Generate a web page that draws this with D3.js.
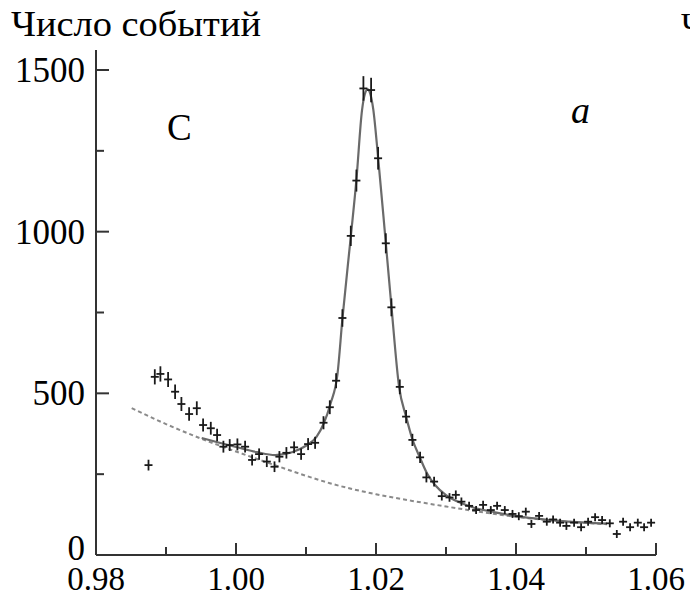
<!DOCTYPE html>
<html>
<head>
<meta charset="utf-8">
<script src="https://cdn.jsdelivr.net/npm/d3@7"></script>
<style>
  body { margin: 0; background: #fff; }
  svg { display: block; }
  .serif { font-family: "Liberation Serif", "Tinos", "Times New Roman", "Nimbus Roman", "Noto Serif", "DejaVu Serif", "FreeSerif", serif; }
</style>
</head>
<body>
<svg id="plot" width="690" height="596"></svg>
<script>
// measured points (mass GeV, events)
const masses = [
  0.9875, 0.9884, 0.9892, 0.9903, 0.9913, 0.9922, 0.9933, 0.9944, 0.9953, 0.9964,
  0.9973, 0.9982, 0.9991, 1.0002, 1.0013, 1.0023, 1.0033, 1.0044, 1.0055, 1.0062,
  1.0072, 1.0083, 1.0093, 1.0103, 1.0113, 1.0125, 1.0134, 1.0143, 1.0152, 1.0164,
  1.0172, 1.0182, 1.0193, 1.0203, 1.0214, 1.0222, 1.0234, 1.0243, 1.0252, 1.0263,
  1.0272, 1.0283, 1.0294, 1.0305, 1.0314, 1.0322, 1.0333, 1.0343, 1.0353, 1.0364,
  1.0373, 1.0384, 1.0395, 1.0404, 1.0414, 1.0422, 1.0433, 1.0444, 1.0453, 1.0463,
  1.0472, 1.0483, 1.0493, 1.0503, 1.0513, 1.0523, 1.0534, 1.0544, 1.0553, 1.0563,
  1.0574, 1.0583, 1.0593
]
const counts = [
  278, 551, 560, 543, 505, 467, 436, 454, 402, 392,
  371, 335, 340, 342, 335, 294, 312, 289, 273, 304,
  316, 333, 312, 343, 347, 409, 457, 539, 733, 987,
  1158, 1443, 1438, 1227, 964, 766, 520, 428, 356, 302,
  240, 227, 182, 178, 186, 165, 152, 139, 155, 139,
  152, 139, 127, 120, 134, 96, 121, 103, 110, 100,
  90, 100, 86, 103, 117, 108, 98, 65, 103, 86,
  100, 86, 100
]

// fit curve
const fitMass = [
  0.9951, 0.9975, 1.0000, 1.0030, 1.0056, 1.0080, 1.0100, 1.0115, 1.0125, 1.0135,
  1.0145, 1.0152, 1.0164, 1.0172, 1.0180, 1.0184, 1.0188, 1.0192, 1.0196, 1.0203,
  1.0214, 1.0222, 1.0233, 1.0243, 1.0252, 1.0263, 1.0273, 1.0285, 1.0300, 1.0320,
  1.0340, 1.0370, 1.0400, 1.0450, 1.0500, 1.0530
]
const fitCounts = [
  362, 348, 334, 318, 309, 318, 338, 365, 405, 468,
  560, 730, 985, 1160, 1375, 1425, 1440, 1425, 1380, 1230,
  965, 770, 520, 428, 358, 300, 252, 215, 185, 162,
  146, 132, 120, 108, 100, 97
]

// background (dashed)
const bgMass = [0.9851, 0.9900, 0.9950, 1.0000, 1.0050, 1.0100, 1.0134, 1.0200, 1.0250, 1.0300, 1.0350, 1.0400, 1.0450, 1.0500, 1.0530]
const bgCounts = [454, 405, 360, 320, 282, 245, 222, 188, 168, 150, 133, 118, 107, 99, 95]

const xTicks = [0.98, 1.00, 1.02, 1.04, 1.06]
const xMinor = [0.99, 1.01, 1.03, 1.05]
const yTicks = [0, 500, 1000, 1500]
const yMinor = [250, 750, 1250]

const svg = d3.select('svg#plot')
const axisColor = '#333'

const x = d3.scaleLinear().domain([0.98, 1.06]).range([96, 656])
const y = d3.scaleLinear().domain([0, 1500]).range([555, 70])

// axes lines
svg.append('line')
  .attr('x1', x(0.98)).attr('x2', x(1.06))
  .attr('y1', y(0)).attr('y2', y(0))
  .attr('stroke', axisColor).attr('stroke-width', 2)
svg.append('line')
  .attr('x1', x(0.98)).attr('x2', x(0.98))
  .attr('y1', y(0)).attr('y2', 50)
  .attr('stroke', axisColor).attr('stroke-width', 2)

// x ticks
svg.selectAll('.xmaj').data(xTicks).enter().append('line')
  .attr('x1', d => x(d)).attr('x2', d => x(d))
  .attr('y1', y(0)).attr('y2', y(0) - 12)
  .attr('stroke', axisColor).attr('stroke-width', 2)
svg.selectAll('.xmin').data(xMinor).enter().append('line')
  .attr('x1', d => x(d)).attr('x2', d => x(d))
  .attr('y1', y(0)).attr('y2', y(0) - 8)
  .attr('stroke', axisColor).attr('stroke-width', 2)
svg.selectAll('.xlab').data(xTicks).enter().append('text')
  .attr('class', 'serif')
  .attr('x', d => x(d)).attr('y', 590)
  .attr('text-anchor', 'middle')
  .style('font-size', '33px')
  .text(d => d.toFixed(2))

// y ticks
svg.selectAll('.ymaj').data(yTicks).enter().append('line')
  .attr('x1', x(0.98)).attr('x2', x(0.98) + 13)
  .attr('y1', d => y(d)).attr('y2', d => y(d))
  .attr('stroke', axisColor).attr('stroke-width', 2)
svg.selectAll('.ymin').data(yMinor).enter().append('line')
  .attr('x1', x(0.98)).attr('x2', x(0.98) + 8)
  .attr('y1', d => y(d)).attr('y2', d => y(d))
  .attr('stroke', axisColor).attr('stroke-width', 2)
svg.selectAll('.ylab').data(yTicks).enter().append('text')
  .attr('class', 'serif')
  .attr('x', 85).attr('y', d => y(d) + (d === 0 ? 5 : 12))
  .attr('text-anchor', 'end')
  .style('font-size', '35px')
  .text(d => d)

// curves
const line = d3.line().x(d => x(d[0])).y(d => y(d[1])).curve(d3.curveMonotoneX)

svg.append('path')
  .datum(d3.zip(bgMass, bgCounts))
  .attr('d', line)
  .attr('fill', 'none')
  .attr('stroke', '#8a8a8a')
  .attr('stroke-width', 2)
  .attr('stroke-dasharray', '4,3')

svg.append('path')
  .datum(d3.zip(fitMass, fitCounts))
  .attr('d', line)
  .attr('fill', 'none')
  .attr('stroke', '#6a6a6a')
  .attr('stroke-width', 2.2)

// data crosses with error bars
const pts = svg.append('g')
  .selectAll('g')
  .data(d3.zip(masses, counts))
  .enter().append('g')
  .attr('transform', d => `translate(${x(d[0])},${y(d[1])})`)
  .attr('stroke', '#1a1a1a')
  .attr('stroke-width', 1.8)

pts.append('line')
  .attr('x1', -4).attr('x2', 4).attr('y1', 0).attr('y2', 0)
pts.append('line')
  .attr('x1', 0).attr('x2', 0)
  .attr('y1', d => -Math.max(4, y(0) - y(Math.sqrt(d[1]))))
  .attr('y2', d => Math.max(4, y(0) - y(Math.sqrt(d[1]))))

// labels
svg.append('text')
  .attr('class', 'serif')
  .attr('x', 11).attr('y', 36)
  .attr('textLength', 250)
  .attr('lengthAdjust', 'spacingAndGlyphs')
  .style('font-size', '35px')
  .text('Число событий')

svg.append('text')
  .attr('class', 'serif')
  .attr('x', 681).attr('y', 36)
  .style('font-size', '34px')
  .text('Ч')

svg.append('text')
  .attr('class', 'serif')
  .attr('x', 167).attr('y', 140)
  .style('font-size', '37px')
  .text('C')

svg.append('text')
  .attr('class', 'serif')
  .attr('x', 571).attr('y', 123)
  .style('font-size', '38px')
  .style('font-style', 'italic')
  .text('a')
</script>
</body>
</html>
